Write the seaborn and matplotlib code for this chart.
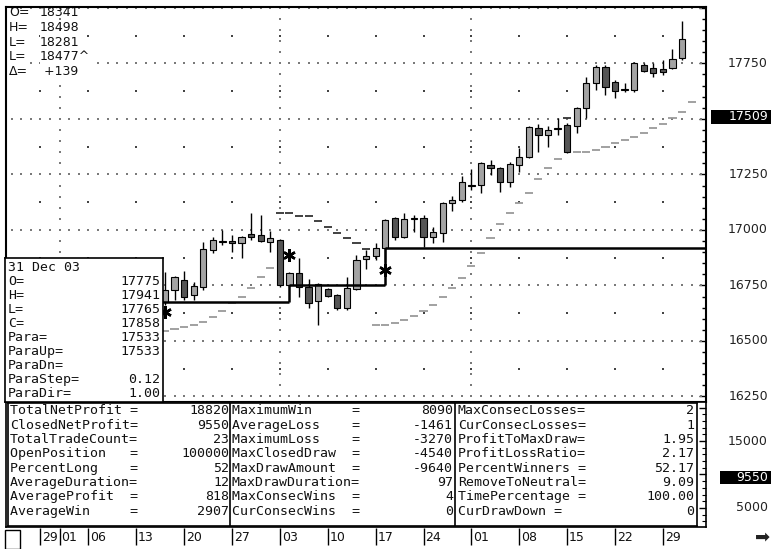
import matplotlib
matplotlib.use("Agg")
import matplotlib.pyplot as plt
import matplotlib.transforms as mtransforms
from matplotlib.patches import Rectangle
import seaborn as sns

W, H = 771, 549

# bar index 0 = Mon 29 Sep 03, five bars a week
bar_idx = list(range(13, 68))
opens = [16676, 16730, 16775, 16707, 16743, 16910, 16944, 16950, 16941, 16982,
         16977, 16946, 16955, 16752, 16806, 16743, 16680, 16734, 16707, 16649,
         16734, 16869, 16883, 16919, 17054, 16968, 17050, 17054, 16968, 16986,
         17122, 17135, 17198, 17203, 17293, 17279, 17216, 17293, 17329, 17459,
         17428, 17455, 17473, 17468, 17550, 17662, 17734, 17667, 17630, 17631,
         17743, 17730, 17725, 17730, 17775]
highs = [16811, 16793, 16815, 16766, 16946, 16969, 17000, 16977, 16972, 17077,
         17067, 16995, 16960, 16811, 16874, 16779, 16761, 16739, 16712, 16788,
         16887, 16910, 16941, 17050, 17059, 17077, 17068, 17068, 17013, 17126,
         17153, 17243, 17275, 17306, 17315, 17284, 17306, 17369, 17468, 17477,
         17468, 17504, 17480, 17554, 17689, 17743, 17743, 17676, 17662, 17757,
         17752, 17752, 17766, 17815, 17941]
lows = [16662, 16685, 16685, 16685, 16730, 16896, 16932, 16901, 16874, 16955,
        16946, 16901, 16743, 16743, 16698, 16649, 16572, 16698, 16640, 16640,
        16730, 16824, 16865, 16856, 16955, 16964, 16991, 16923, 16941, 16946,
        17086, 17126, 17180, 17167, 17248, 17171, 17194, 17261, 17324, 17351,
        17374, 17428, 17346, 17437, 17504, 17631, 17608, 17595, 17620, 17622,
        17712, 17689, 17698, 17725, 17765]
closes = [16730, 16788, 16698, 16748, 16914, 16955, 16948, 16941, 16968, 16968,
          16950, 16964, 16752, 16806, 16743, 16671, 16757, 16703, 16649, 16739,
          16865, 16883, 16919, 17045, 16968, 17050, 17052, 16968, 16991, 17122,
          17135, 17216, 17200, 17302, 17279, 17216, 17297, 17329, 17464, 17428,
          17450, 17459, 17351, 17550, 17662, 17734, 17644, 17626, 17632, 17752,
          17716, 17707, 17712, 17770, 17858]

# parabolic SAR, one dash per bar (1 = long, -1 = short)
sar_idx = list(range(13, 69))
sar_vals = [16545, 16554, 16563, 16572, 16585, 16608, 16635, 16671, 16698, 16739,
            16788, 16829,
            17077, 17077, 17063, 17063, 17040, 17013, 16986, 16964, 16941, 16914,
            16572, 16572, 16581, 16594, 16612, 16635, 16662, 16698, 16739, 16784,
            16838, 16896, 16964, 17027, 17077, 17122, 17167, 17230, 17279, 17320,
            17504,
            17351, 17351, 17360, 17374, 17392, 17405, 17419, 17437, 17459, 17477,
            17504, 17533, 17577]
sar_dir = [1] * 12 + [-1] * 10 + [1] * 20 + [-1] + [1] * 13

# trade position line
trade_start = [12.5, 26, 36]
trade_end = [26, 36, 69.5]
trade_price = [16676, 16752, 16920]

signal_idx = [13, 26, 36]
signal_price = [16630, 16887, 16820]

date_idx = [0, 2, 5, 10, 15, 20, 25, 30, 35, 40, 45, 50, 55, 60, 65]
date_labels = ["29", "01", "06", "13", "20", "27", "03", "10", "17", "24",
               "01", "08", "15", "22", "29"]
month_idx = [2, 25, 45]
monday_idx = [0, 5, 10, 15, 20, 25, 30, 35, 40, 45, 50, 55, 60, 65]

price_labels = [16250, 16500, 16750, 17000, 17250, 17750]
price_marker = 17509
equity_labels = [5000, 15000]
equity_marker = 9550

top_info = [("O=", "18341"), ("H=", "18498"), ("L=", "18281"),
            ("L=", "18477^"), ("Δ=", " +139")]
bar_info_date = "31 Dec 03"
bar_info = [("O=", "17775"), ("H=", "17941"), ("L=", "17765"), ("C=", "17858"),
            ("Para=", "17533"), ("ParaUp=", "17533"), ("ParaDn=", ""),
            ("ParaStep=", "0.12"), ("ParaDir=", "1.00")]

stats_col1 = [("TotalNetProfit =", "18820"), ("ClosedNetProfit=", "9550"),
              ("TotalTradeCount=", "23"), ("OpenPosition   =", "100000"),
              ("PercentLong    =", "52"), ("AverageDuration=", "12"),
              ("AverageProfit  =", "818"), ("AverageWin     =", "2907")]
stats_col2 = [("MaximumWin     =", "8090"), ("AverageLoss    =", "-1461"),
              ("MaximumLoss    =", "-3270"), ("MaxClosedDraw  =", "-4540"),
              ("MaxDrawAmount  =", "-9640"), ("MaxDrawDuration=", "97"),
              ("MaxConsecWins  =", "4"), ("CurConsecWins  =", "0")]
stats_col3 = [("MaxConsecLosses=", "2"), ("CurConsecLosses=", "1"),
              ("ProfitToMaxDraw=", "1.95"), ("ProfitLossRatio=", "2.17"),
              ("PercentWinners =", "52.17"), ("RemoveToNeutral=", "9.09"),
              ("TimePercentage =", "100.00"), ("CurDrawDown =", "0")]

sns.set_theme(style="white")
plt.rcParams['font.family'] = ['DejaVu Sans']
MONO = 'DejaVu Sans Mono'


def fx(px):
    return px / W


def fy(py):
    return 1 - py / H


fig = plt.figure(figsize=(W / 100, H / 100), dpi=100)
fig.patch.set_facecolor('white')

XL = (-3.6, 69.5)
L_PX, R_PX = 6, 706

# ---- price pane ----
ax = fig.add_axes([fx(L_PX), fy(402), (R_PX - L_PX) / W, (402 - 7) / H])
ax.set_xlim(*XL)
ax.set_ylim(16225, 18004)
for s in ax.spines.values():
    s.set_color('black')
    s.set_linewidth(1.5)

# dotted grid
levels = list(range(16250, 18001, 250))
gx, gy = [], []
for lv in levels:
    for i in range(-3, 70):
        gx.append(i)
        gy.append(lv)
for m in month_idx:
    for p in range(16250, 18001, 50):
        gx.append(m)
        gy.append(p)
ax.scatter(gx, gy, s=0.7, marker='s', color='#7a7a7a', linewidths=0, zorder=1)
mx, my = [], []
for m in monday_idx:
    for p in range(16375, 18000, 250):
        mx.append(m)
        my.append(p)
ax.scatter(mx, my, s=1.3, marker='s', color='#444444', linewidths=0, zorder=1)

# candles
fills = ['#a3a3a3' if c >= o else '#555555' for o, c in zip(opens, closes)]
heights = [c - o if abs(c - o) >= 3 else 3 for o, c in zip(opens, closes)]
ax.vlines(bar_idx, lows, highs, color='black', lw=1, zorder=2)
ax.bar(bar_idx, heights, bottom=opens, width=0.65, color=fills,
       edgecolor='black', linewidth=0.8, zorder=3)

# parabolic SAR dashes
sns.scatterplot(x=sar_idx, y=sar_vals, hue=sar_dir,
                palette={1: '#9a9a9a', -1: '#333333'}, marker='_', s=34,
                linewidth=1.3, legend=False, ax=ax, zorder=2)

# trade position line
ax.hlines(trade_price, trade_start, trade_end, color='black', lw=1.8, zorder=4)
ax.vlines(trade_start[1:], trade_price[:-1], trade_price[1:], color='black',
          lw=1.8, zorder=4)
ax.plot(signal_idx, signal_price, ls='none', marker=(6, 2, 0), ms=9, mew=1.8,
        color='black', zorder=5)

ax.yaxis.tick_right()
ax.set_yticks(range(16250, 18001, 250))
ax.set_yticks(range(16250, 18001, 50), minor=True)
ax.tick_params(axis='y', which='both', direction='in', right=True, left=False,
               labelright=False, labelleft=False, color='black')
ax.tick_params(axis='y', which='major', length=5, width=1)
ax.tick_params(axis='y', which='minor', length=3, width=1)
ax.set_xticks([])
ax.set_xlabel('')
ax.set_ylabel('')

lab_x = (768 - L_PX) / (R_PX - L_PX)
box_x = (711 - L_PX) / (R_PX - L_PX)
trans = mtransforms.blended_transform_factory(ax.transAxes, ax.transData)
for p in price_labels:
    ax.text(lab_x, p, str(p), transform=trans, ha='right', va='center',
            fontsize=9, color='#222222', clip_on=False)
ax.add_patch(Rectangle((box_x, price_marker - 32), (771 - 711) / (R_PX - L_PX), 64,
                       transform=trans, facecolor='black', edgecolor='none',
                       clip_on=False, zorder=6))
ax.text(lab_x, price_marker, str(price_marker), transform=trans, ha='right',
        va='center', fontsize=9, color='white', clip_on=False, zorder=7)

# top-left quote; lower rows mask the grid dots behind them
for k, (lab, val) in enumerate(top_info):
    yy = 12.5 + 14.8 * k
    bb = dict(facecolor='white', edgecolor='none', pad=0.3) if k >= 2 else None
    ax.text(fx(9), fy(yy), lab, transform=fig.transFigure, ha='left',
            va='center', fontsize=9, color='#111111', zorder=2.2, bbox=bb)
    ax.text(fx(40), fy(yy), val, transform=fig.transFigure, ha='left',
            va='center', fontsize=9, color='#111111', zorder=2.2, bbox=bb)

# ---- equity pane ----
axl = fig.add_axes([fx(L_PX), fy(527), (R_PX - L_PX) / W, (527 - 402) / H])
axl.set_xlim(*XL)
axl.set_ylim(2164, 20821)
for s in axl.spines.values():
    s.set_color('black')
    s.set_linewidth(1.2)
axl.yaxis.tick_right()
axl.set_yticks(range(5000, 20001, 5000))
axl.set_yticks(range(3000, 20001, 1000), minor=True)
axl.tick_params(axis='y', which='both', direction='in', right=True, left=False,
                labelright=False, labelleft=False, color='black')
axl.tick_params(axis='y', which='major', length=5, width=1)
axl.tick_params(axis='y', which='minor', length=3, width=0.8)
axl.set_xticks([])
transl = mtransforms.blended_transform_factory(axl.transAxes, axl.transData)
for p in equity_labels:
    axl.text(lab_x, p, str(p), transform=transl, ha='right', va='center',
             fontsize=9, color='#222222', clip_on=False)
box_x2 = (720 - L_PX) / (R_PX - L_PX)
axl.add_patch(Rectangle((box_x2, equity_marker - 950), (771 - 720) / (R_PX - L_PX),
                        1900, transform=transl, facecolor='black',
                        edgecolor='none', clip_on=False, zorder=6))
axl.text(lab_x, equity_marker, str(equity_marker), transform=transl, ha='right',
         va='center', fontsize=9, color='white', clip_on=False, zorder=7)

# ---- strategy statistics table ----
axt = fig.add_axes([fx(8), fy(526), (697 - 8) / W, (526 - 403) / H])
axt.set_facecolor('white')
axt.set_xlim(8, 697)
axt.set_ylim(526, 403)
axt.set_xticks([])
axt.set_yticks([])
for s in axt.spines.values():
    s.set_color('black')
    s.set_linewidth(1.2)
axt.axvline(230, color='black', lw=1.2)
axt.axvline(455, color='black', lw=1.2)
cols = [(stats_col1, 10, 229), (stats_col2, 232, 453), (stats_col3, 458, 694)]
for rows, lx, rx in cols:
    for k, (lab, val) in enumerate(rows):
        yy = 411 + 14.3 * k
        axt.text(lx, yy, lab, ha='left', va='center', fontsize=9.5,
                 family=MONO, color='#111111')
        axt.text(rx, yy, val, ha='right', va='center', fontsize=9.5,
                 family=MONO, color='#111111')

# ---- bar info box ----
axi = fig.add_axes([fx(5), fy(402), (163 - 5) / W, (402 - 258) / H])
axi.set_facecolor('white')
axi.set_xlim(5, 163)
axi.set_ylim(402, 258)
axi.set_xticks([])
axi.set_yticks([])
for s in axi.spines.values():
    s.set_color('black')
    s.set_linewidth(1.2)
axi.text(8, 267, bar_info_date, ha='left', va='center', fontsize=9.5,
         family=MONO, color='#111111')
for k, (lab, val) in enumerate(bar_info):
    yy = 281.5 + 14.0 * k
    axi.text(8, yy, lab, ha='left', va='center', fontsize=9.5, family=MONO,
             color='#111111')
    axi.text(160, yy, val, ha='right', va='center', fontsize=9.5, family=MONO,
             color='#111111')

# ---- date axis ----
axd = fig.add_axes([fx(L_PX), 0, (R_PX - L_PX) / W, 22 / H])
axd.set_xlim(*XL)
axd.set_ylim(0, 1)
axd.axis('off')
axd.vlines(date_idx, 0.18, 0.95, color='black', lw=1)
for i, lab in zip(date_idx, date_labels):
    axd.text(i + 0.2, 0.52, lab, ha='left', va='center', fontsize=9,
             color='#111111')

fig.add_artist(Rectangle((fx(5), fy(549)), 15 / W, 19 / H, transform=fig.transFigure,
                         facecolor='white', edgecolor='black', lw=1))
fig.text(fx(763), fy(537), "➡", ha='center', va='center', fontsize=13,
         color='#222222')

fig.savefig("out.png", dpi=100)
